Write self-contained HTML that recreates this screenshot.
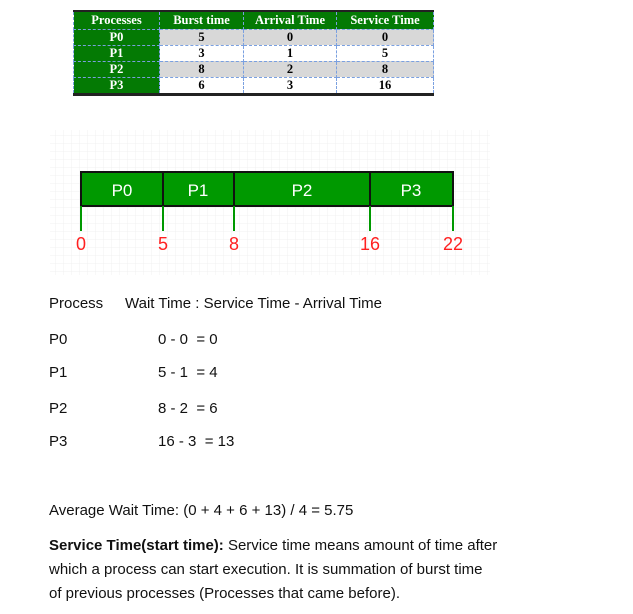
<!DOCTYPE html>
<html><head><style>
body{margin:0;width:633px;height:614px;background:#fff;position:relative;overflow:hidden;font-family:"Liberation Sans",sans-serif;}
.a{position:absolute;white-space:nowrap;}
table{position:absolute;left:73px;top:10px;border-collapse:collapse;font-family:"Liberation Serif",serif;font-weight:bold;font-size:12.5px;border-bottom:3px solid #222;border-top:2px solid #222;}
td{border:1px dashed #7aa0e0;text-align:center;height:15px;padding:0;}
tr.g td{background:#d8d8d8}
tr td.h{background:#047a04;color:#fff;}
.t{font-size:15px;color:#111;}
</style></head><body>
<table>
<tr style="height:18px"><td class="h" style="width:85px">Processes</td><td class="h" style="width:83px">Burst time</td><td class="h" style="width:92px">Arrival Time</td><td class="h" style="width:96px">Service Time</td></tr>
<tr class="g"><td class="h">P0</td><td>5</td><td>0</td><td>0</td></tr>
<tr><td class="h">P1</td><td>3</td><td>1</td><td>5</td></tr>
<tr class="g"><td class="h">P2</td><td>8</td><td>2</td><td>8</td></tr>
<tr><td class="h">P3</td><td>6</td><td>3</td><td>16</td></tr>
</table>
<svg class="a" style="left:0;top:0" width="633" height="300">
<defs><pattern id="p" width="8" height="8" patternUnits="userSpaceOnUse"><path d="M8 0V8H0" fill="none" stroke="#f0f0f0" stroke-width="1"/></pattern></defs>
<rect x="50" y="130" width="440" height="145" fill="url(#p)"/>
<rect x="81" y="172" width="372" height="34" fill="#009900" stroke="#111" stroke-width="2"/>
<path d="M163 172V206M234 172V206M370 172V206" stroke="#111" stroke-width="2"/>
<path d="M81 206V231M163 206V231M234 206V231M370 206V231M453 206V231" stroke="#009900" stroke-width="2"/>
<g fill="#fff" font-size="17" text-anchor="middle" font-family="Liberation Sans,sans-serif">
<text x="122" y="196">P0</text><text x="198" y="196">P1</text><text x="302" y="196">P2</text><text x="411" y="196">P3</text></g>
<g fill="#ff2020" font-size="18" text-anchor="middle" font-family="Liberation Sans,sans-serif">
<text x="81" y="250">0</text><text x="163" y="250">5</text><text x="234" y="250">8</text><text x="370" y="250">16</text><text x="453" y="250">22</text></g>
</svg>
<div class="a t" style="left:49px;top:295px">Process</div>
<div class="a t" style="left:125px;top:295px">Wait Time : Service Time - Arrival Time</div>
<div class="a t" style="left:49px;top:331px">P0</div><div class="a t" style="left:158px;top:331px">0 - 0 &nbsp;= 0</div>
<div class="a t" style="left:49px;top:364px">P1</div><div class="a t" style="left:158px;top:364px">5 - 1 &nbsp;= 4</div>
<div class="a t" style="left:49px;top:400px">P2</div><div class="a t" style="left:158px;top:400px">8 - 2 &nbsp;= 6</div>
<div class="a t" style="left:49px;top:433px">P3</div><div class="a t" style="left:158px;top:433px">16 - 3 &nbsp;= 13</div>
<div class="a t" style="left:49px;top:502px">Average Wait Time: (0 + 4 + 6 + 13) / 4 = 5.75</div>
<div class="a t" style="left:49px;top:534px;line-height:24px"><b>Service Time(start time):</b> Service time means amount of time after<br>which a process can start execution. It is summation of burst time<br>of previous processes (Processes that came before).</div>
</body></html>
